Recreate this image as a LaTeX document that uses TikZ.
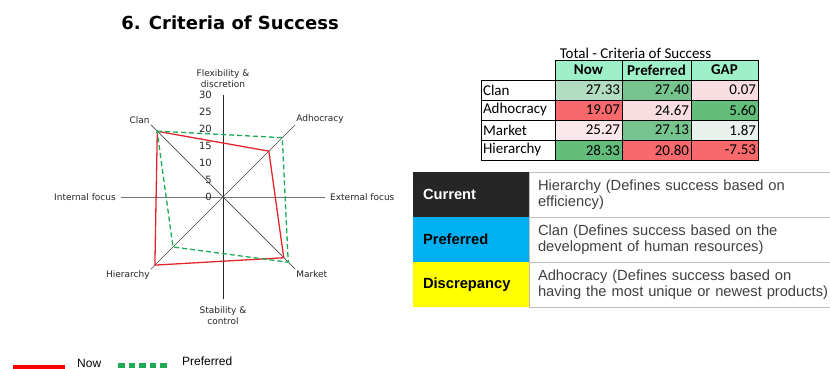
\documentclass[tikz,border=0pt]{standalone}
\usepackage{fontspec}
\setmainfont{Liberation Sans}
\newfontfamily\chartfont{DejaVu Sans}
\newfontfamily\tablefont{Carlito}
\usepackage{xcolor}
\usetikzlibrary{calc, positioning}

\definecolor{nowred}{HTML}{E3262B}
\definecolor{prefgreen}{HTML}{1FAA55}
\definecolor{hdrgreen}{HTML}{9EF0C9}
\definecolor{gStrong}{HTML}{63BE7B}
\definecolor{gMid}{HTML}{78C48F}
\definecolor{gLight}{HTML}{B3DDC1}
\definecolor{gPale}{HTML}{E8F1EB}
\definecolor{rStrong}{HTML}{F8696B}
\definecolor{rPale}{HTML}{F9DEE1}
\definecolor{curdark}{HTML}{262626}
\definecolor{prefblue}{HTML}{00B0F0}
\definecolor{discyellow}{HTML}{FFFF00}

\begin{document}
\begin{tikzpicture}[x=1pt, y=1pt,
		axislabel/.style={font=\chartfont\fontsize{9}{11.5}\selectfont, inner sep=1pt, text=black!85},
		tick/.style={font=\chartfont\fontsize{10}{10}\selectfont, inner sep=0pt, anchor=east, text=black!85},
		nowline/.style={nowred, line width=1.3pt, line join=round},
		prefline/.style={prefgreen, line width=1.3pt, dash pattern=on 5pt off 3pt},
		hdrcell/.style={draw, fill=hdrgreen, minimum height=20pt, inner sep=0pt, font=\tablefont\bfseries\fontsize{15}{15}\selectfont},
		numcell/.style={draw, minimum height=20pt, inner xsep=2pt, inner ysep=0pt, text width=#1, align=right, font=\tablefont\fontsize{15}{15}\selectfont},
		namecell/.style={numcell=70pt, align=left},
		boxlabel/.style={minimum height=45pt, inner xsep=10pt, text width=96pt, align=left, font=\bfseries\fontsize{14.7}{16.5}\selectfont},
		boxtext/.style={draw=black!25, minimum height=45pt, inner xsep=9pt, text width=300pt, align=left, text=black!75, font=\fontsize{14.7}{16.5}\selectfont}]
		
		%canvas
		\useasboundingbox (0,0) rectangle (830,369);
		
		%title
		\node [font=\chartfont\bfseries\fontsize{18}{18}\selectfont] (title) at (230,346) {6. Criteria of Success};
		
		%definition of origin
		\coordinate (O) at (223,172);
		
		%variables
		\def\rscale{3.4}
		\def\rmax{30}
		
		%axes
		\coordinate (top) at ($ (O) + (90:{\rmax*\rscale}) $);
		\coordinate (bottom) at ($ (O) + (-90:{\rmax*\rscale}) $);
		\coordinate (left) at ($ (O) + (180:{\rmax*\rscale}) $);
		\coordinate (right) at ($ (O) + (0:{\rmax*\rscale}) $);
		\coordinate (clanEnd) at ($ (O) + (135:{\rmax*\rscale}) $);
		\coordinate (adhEnd) at ($ (O) + (45:{\rmax*\rscale}) $);
		\coordinate (markEnd) at ($ (O) + (-45:{\rmax*\rscale}) $);
		\coordinate (hierEnd) at ($ (O) + (-135:{\rmax*\rscale}) $);
		
		\draw [black!55, line width=0.7pt] (left) -- (right);
		\draw [black!85, line width=0.7pt] (top) -- (bottom);
		\draw [black!70, line width=0.7pt] (clanEnd) -- (markEnd);
		\draw [black!70, line width=0.7pt] (adhEnd) -- (hierEnd);
		
		%scale
		\node [tick] (t0) at ($ (O) + (-11,0) $) {0};
		\node [tick] (t5) at ($ (O) + (-11,{5*\rscale}) $) {5};
		\node [tick] (t10) at ($ (O) + (-11,{10*\rscale}) $) {10};
		\node [tick] (t15) at ($ (O) + (-11,{15*\rscale}) $) {15};
		\node [tick] (t20) at ($ (O) + (-11,{20*\rscale}) $) {20};
		\node [tick] (t25) at ($ (O) + (-11,{25*\rscale}) $) {25};
		\node [tick] (t30) at ($ (O) + (-11,{30*\rscale}) $) {30};
		
		%axis labels
		\node [axislabel, align=center, above=6pt of top] (flex) {Flexibility \&\\discretion};
		\node [axislabel, align=center, below=6pt of bottom] (stab) {Stability \&\\control};
		\node [axislabel, left=4pt of left] (internal) {Internal focus};
		\node [axislabel, right=4pt of right] (external) {External focus};
		\node [axislabel, anchor=south east] (clanLab) at (clanEnd) {Clan};
		\node [axislabel, anchor=south west] (adhLab) at (adhEnd) {Adhocracy};
		\node [axislabel, anchor=north west] (markLab) at (markEnd) {Market};
		\node [axislabel, anchor=north east] (hierLab) at (hierEnd) {Hierarchy};
		
		%now
		\coordinate (clanN) at ($ (O) + (135:{27.33*\rscale}) $);
		\coordinate (adhN) at ($ (O) + (45:{19.07*\rscale}) $);
		\coordinate (markN) at ($ (O) + (-45:{25.27*\rscale}) $);
		\coordinate (hierN) at ($ (O) + (-135:{28.33*\rscale}) $);
		\draw [nowline] (clanN) -- (adhN) -- (markN) -- (hierN) -- cycle;
		
		%preferred
		\coordinate (clanP) at ($ (O) + (135:{27.40*\rscale}) $);
		\coordinate (adhP) at ($ (O) + (45:{24.67*\rscale}) $);
		\coordinate (markP) at ($ (O) + (-45:{27.13*\rscale}) $);
		\coordinate (hierP) at ($ (O) + (-135:{20.80*\rscale}) $);
		\draw [prefline] (clanP) -- (adhP) -- (markP) -- (hierP) -- cycle;
		
		%legend
		\coordinate (nowA) at (13,1);
		\coordinate (nowB) at (65,1);
		\draw [red, line width=6pt] (nowA) -- (nowB);
		\node [anchor=west, inner sep=0pt, font=\fontsize{12}{12}\selectfont] (nowLeg) at (77,6) {Now};
		\coordinate (prefA) at (118,3);
		\coordinate (prefB) at (168,3);
		\draw [prefgreen, line width=5pt, dash pattern=on 6.5pt off 4pt] (prefA) -- (prefB);
		\node [anchor=west, inner sep=0pt, font=\fontsize{12}{12}\selectfont] (prefLeg) at (182,8) {Preferred};
		
		%totals table
		\node [font=\tablefont\fontsize{15}{15}\selectfont] (tabTitle) at (635.5,316) {Total - Criteria of Success};
		
		\node [hdrcell, minimum width=67pt] (hNow) at (588.5,299) {Now};
		\node [hdrcell, minimum width=69pt] (hPref) at (656.5,299) {Preferred};
		\node [hdrcell, minimum width=67pt] (hGap) at (724.5,299) {GAP};
		
		\node [namecell] (clan) at (518,279) {Clan};
		\node [numcell=63pt, fill=gLight] (clanNow) at (588.5,279) {27.33};
		\node [numcell=65pt, fill=gMid] (clanPref) at (656.5,279) {27.40};
		\node [numcell=63pt, fill=rPale] (clanGap) at (724.5,279) {0.07};
		
		\node [namecell] (adh) at (518,259) {Adhocracy};
		\node [numcell=63pt, fill=rStrong] (adhNow) at (588.5,259) {19.07};
		\node [numcell=65pt, fill=rPale] (adhPref) at (656.5,259) {24.67};
		\node [numcell=63pt, fill=gStrong] (adhGap) at (724.5,259) {5.60};
		
		\node [namecell] (mark) at (518,239) {Market};
		\node [numcell=63pt, fill=rPale!70] (markNow) at (588.5,239) {25.27};
		\node [numcell=65pt, fill=gMid] (markPref) at (656.5,239) {27.13};
		\node [numcell=63pt, fill=gPale] (markGap) at (724.5,239) {1.87};
		
		\node [namecell] (hier) at (518,219) {Hierarchy};
		\node [numcell=63pt, fill=gStrong] (hierNow) at (588.5,219) {28.33};
		\node [numcell=65pt, fill=rStrong] (hierPref) at (656.5,219) {20.80};
		\node [numcell=63pt, fill=rStrong] (hierGap) at (724.5,219) {-7.53};
		
		%culture table
		\node [boxlabel, fill=curdark, text=white] (cur) at (471,174.5) {Current};
		\node [boxtext] (curText) at (688,174.5) {Hierarchy (Defines success based on\\efficiency)};
		\node [boxlabel, fill=prefblue] (pref) at (471,129.5) {Preferred};
		\node [boxtext] (prefText) at (688,129.5) {Clan (Defines success based on the\\development of human resources)};
		\node [boxlabel, fill=discyellow] (disc) at (471,84.5) {Discrepancy};
		\node [boxtext] (discText) at (688,84.5) {Adhocracy (Defines success based on\\having the most unique or newest products)};
	\end{tikzpicture}
\end{document}
